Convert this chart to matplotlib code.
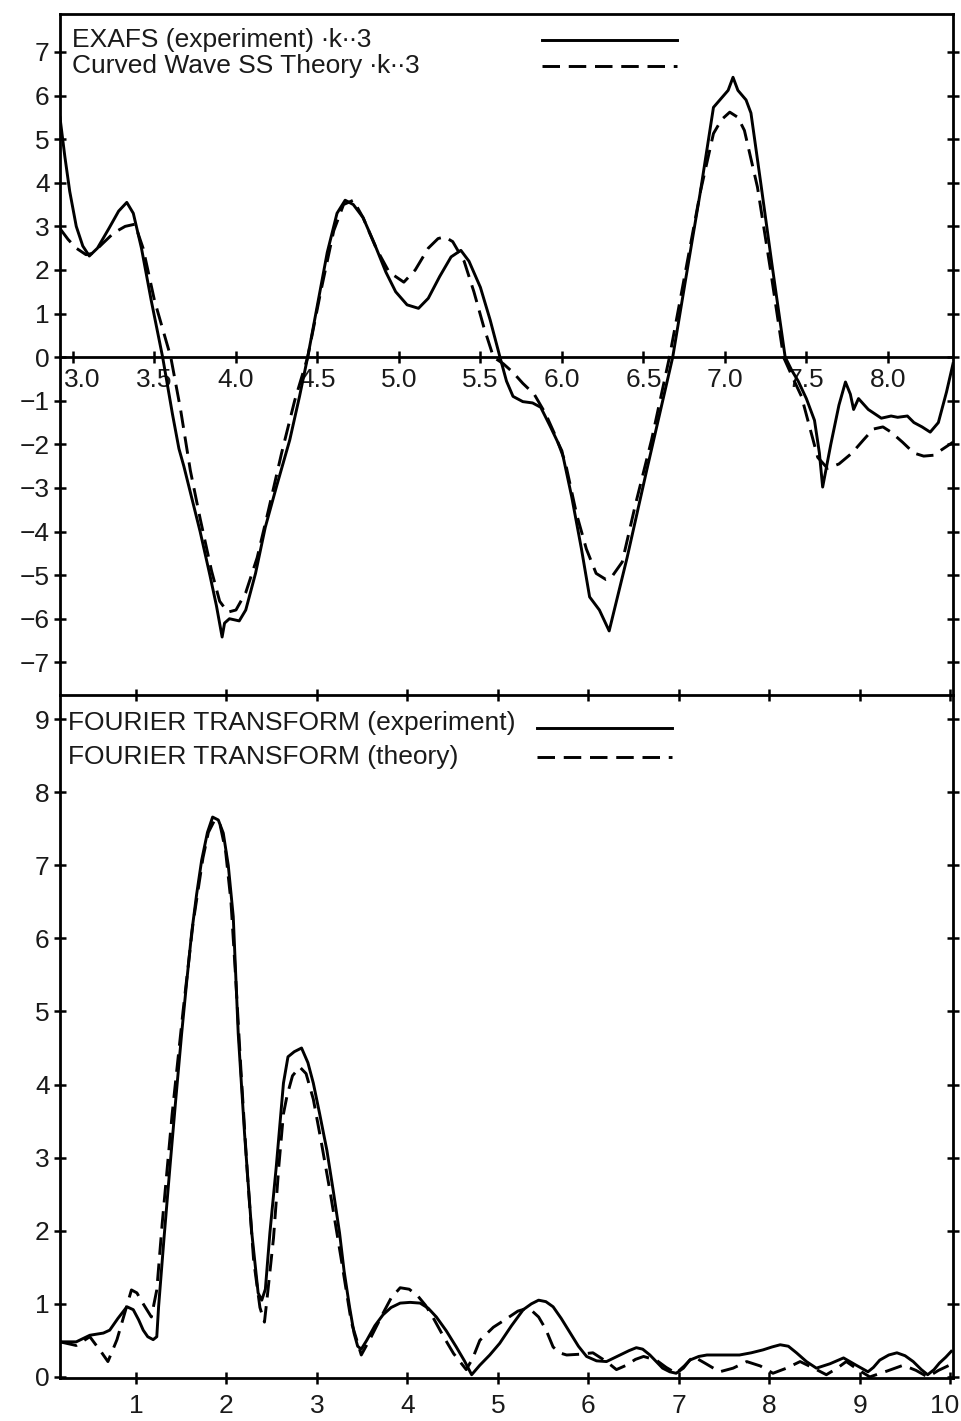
import numpy as np
from matplotlib import pyplot as plt
from matplotlib.ticker import FormatStrFormatter
from matplotlib.transforms import ScaledTranslation

plt.rcParams['font.family'] = ['Liberation Sans', 'DejaVu Sans']
plt.rcParams['font.size'] = 19

# EXAFS k^3-weighted, experiment
k_exp = [2.92, 2.95, 2.98, 3.02, 3.06, 3.10, 3.15, 3.22, 3.28, 3.33, 3.37, 3.42, 3.48,
         3.55, 3.61, 3.65, 3.68, 3.72, 3.78, 3.84, 3.88, 3.915, 3.93, 3.96, 4.02, 4.06,
         4.12, 4.18, 4.25, 4.33, 4.39, 4.44, 4.50, 4.56, 4.62, 4.67, 4.72, 4.78, 4.85,
         4.92, 4.98, 5.05, 5.12, 5.18, 5.25, 5.32, 5.38, 5.43, 5.50, 5.56, 5.62, 5.66,
         5.70, 5.76, 5.82, 5.87, 5.93, 6.00, 6.06, 6.12, 6.17, 6.20, 6.23, 6.29, 6.40,
         6.52, 6.60, 6.68, 6.76, 6.85, 6.93, 7.02, 7.05, 7.08, 7.13, 7.16, 7.22, 7.29,
         7.37, 7.41, 7.45, 7.50, 7.55, 7.58, 7.60, 7.65, 7.70, 7.74, 7.77, 7.79, 7.82,
         7.88, 7.96, 8.02, 8.06, 8.12, 8.16, 8.21, 8.26, 8.31, 8.36, 8.40]
chi_exp = [5.5, 4.6, 3.8, 3.0, 2.55, 2.32, 2.5, 2.95, 3.35, 3.55, 3.3, 2.5, 1.3,
           0.0, -1.3, -2.1, -2.5, -3.1, -4.0, -5.0, -5.7, -6.42, -6.1, -6.0, -6.05, -5.8,
           -4.96, -3.9, -2.95, -1.9, -0.9, 0.0, 1.2, 2.4, 3.3, 3.6, 3.5, 3.2, 2.6,
           1.95, 1.5, 1.2, 1.12, 1.35, 1.85, 2.3, 2.45, 2.2, 1.6, 0.85, 0.0, -0.55,
           -0.9, -1.02, -1.05, -1.15, -1.6, -2.15, -3.2, -4.4, -5.5, -5.65, -5.8, -6.28, -4.6,
           -2.6, -1.3, 0.0, 1.8, 3.8, 5.73, 6.12, 6.42, 6.12, 5.9, 5.6, 4.0, 2.1,
           0.0, -0.3, -0.55, -0.95, -1.45, -2.2, -2.98, -2.0, -1.1, -0.57, -0.85, -1.2, -0.95,
           -1.2, -1.4, -1.35, -1.38, -1.35, -1.5, -1.6, -1.72, -1.5, -0.8, -0.15]

# curved wave single scattering theory
k_th = [2.92, 2.97, 3.02, 3.08, 3.12, 3.18, 3.25, 3.32, 3.38, 3.43, 3.50, 3.60, 3.66,
        3.72, 3.78, 3.85, 3.90, 3.95, 4.00, 4.06, 4.13, 4.20, 4.28, 4.36, 4.44, 4.52,
        4.60, 4.66, 4.72, 4.78, 4.86, 4.94, 5.03, 5.10, 5.18, 5.24, 5.28, 5.33, 5.40,
        5.46, 5.52, 5.58, 5.64, 5.70, 5.76, 5.83, 5.90, 5.96, 6.02, 6.09, 6.15, 6.21,
        6.27, 6.30, 6.37, 6.45, 6.55, 6.66, 6.75, 6.85, 6.93, 6.98, 7.03, 7.08, 7.12,
        7.20, 7.28, 7.36, 7.42, 7.47, 7.52, 7.57, 7.63, 7.70, 7.78, 7.85, 7.91, 7.97,
        8.02, 8.09, 8.16, 8.22, 8.28, 8.34, 8.40]
chi_th = [2.95, 2.7, 2.5, 2.35, 2.38, 2.6, 2.85, 3.0, 3.05, 2.5, 1.3, 0.0, -1.2,
          -2.6, -3.7, -4.9, -5.6, -5.85, -5.8, -5.4, -4.6, -3.5, -2.2, -1.0, 0.0, 1.5,
          2.9, 3.5, 3.6, 3.2, 2.5, 1.95, 1.72, 2.0, 2.5, 2.72, 2.76, 2.65, 2.2,
          1.5, 0.7, 0.0, -0.15, -0.35, -0.6, -0.85, -1.3, -1.8, -2.4, -3.6, -4.4, -4.96,
          -5.1, -5.07, -4.7, -3.4, -1.9, 0.0, 1.8, 3.8, 5.13, 5.45, 5.62, 5.5, 5.2,
          3.9, 2.0, 0.0, -0.5, -0.9, -1.6, -2.3, -2.55, -2.45, -2.2, -1.9, -1.65, -1.6,
          -1.72, -1.95, -2.2, -2.27, -2.25, -2.1, -1.95]

# Fourier transform magnitude, experiment
r_exp = [0.16, 0.34, 0.49, 0.64, 0.71, 0.80, 0.90, 0.97, 1.03, 1.08, 1.13, 1.19, 1.23,
         1.25, 1.31, 1.376, 1.44, 1.505, 1.56, 1.615, 1.67, 1.726, 1.79, 1.847, 1.91,
         1.965, 2.02, 2.075, 2.13, 2.20, 2.28, 2.35, 2.39, 2.43, 2.48, 2.55, 2.63,
         2.68, 2.75, 2.83, 2.90, 2.96, 3.03, 3.11, 3.18, 3.25, 3.30, 3.36, 3.41, 3.45,
         3.49, 3.55, 3.64, 3.73, 3.82, 3.92, 4.03, 4.14, 4.23, 4.32, 4.43, 4.54, 4.63,
         4.71, 4.80, 4.91, 5.02, 5.15, 5.28, 5.37, 5.45, 5.53, 5.61, 5.70, 5.80, 5.89,
         5.98, 6.09, 6.20, 6.35, 6.45, 6.53, 6.60, 6.68, 6.75, 6.82, 6.90, 6.97, 7.05,
         7.12, 7.22, 7.31, 7.50, 7.67, 7.80, 7.93, 8.03, 8.12, 8.21, 8.30, 8.41, 8.52,
         8.67, 8.82, 8.96, 9.09, 9.15, 9.22, 9.32, 9.41, 9.50, 9.59, 9.68, 9.75, 9.82,
         9.88, 9.95, 10.01]
ft_exp = [0.48, 0.48, 0.57, 0.60, 0.64, 0.80, 0.96, 0.92, 0.78, 0.64, 0.55, 0.51, 0.55,
          0.96, 1.9, 2.88, 3.8, 4.7, 5.4, 6.07, 6.6, 7.07, 7.45, 7.66, 7.62,
          7.44, 7.0, 6.30, 4.7, 3.33, 1.97, 1.15, 1.05, 1.2, 1.97, 2.87, 4.02,
          4.38, 4.45, 4.5, 4.3, 4.02, 3.6, 3.1, 2.55, 1.97, 1.45, 0.96, 0.6, 0.42,
          0.38, 0.5, 0.7, 0.85, 0.95, 1.01, 1.02, 1.01, 0.94, 0.82, 0.63, 0.41, 0.22,
          0.03, 0.16, 0.3, 0.46, 0.7, 0.92, 1.0, 1.05, 1.03, 0.96, 0.8, 0.6, 0.42,
          0.28, 0.22, 0.21, 0.3, 0.36, 0.4, 0.38, 0.3, 0.21, 0.12, 0.07, 0.05, 0.12,
          0.23, 0.28, 0.3, 0.3, 0.3, 0.33, 0.37, 0.41, 0.44, 0.42, 0.33, 0.21, 0.12,
          0.18, 0.26, 0.16, 0.07, 0.13, 0.23, 0.3, 0.33, 0.29, 0.21, 0.1, 0.03, 0.1,
          0.19, 0.27, 0.35]

# Fourier transform magnitude, theory
r_th = [0.16, 0.34, 0.49, 0.55, 0.60, 0.69, 0.79, 0.87, 0.95, 1.01, 1.08, 1.17, 1.23,
        1.29, 1.40, 1.52, 1.63, 1.74, 1.80, 1.87, 1.93, 1.99, 2.05, 2.10, 2.16, 2.23,
        2.30, 2.37, 2.42, 2.46, 2.52, 2.58, 2.63, 2.67, 2.73, 2.81, 2.88, 2.96, 3.05,
        3.15, 3.27, 3.38, 3.49, 3.60, 3.73, 3.82, 3.92, 4.02, 4.12, 4.20, 4.28, 4.40,
        4.51, 4.65, 4.72, 4.80, 4.95, 5.10, 5.22, 5.30, 5.38, 5.45, 5.53, 5.61, 5.68,
        5.76, 5.90, 6.05, 6.20, 6.31, 6.42, 6.52, 6.61, 6.75, 6.86, 6.97, 7.06, 7.16,
        7.30, 7.45, 7.60, 7.75, 7.90, 8.04, 8.19, 8.34, 8.49, 8.63, 8.75, 8.85, 8.98,
        9.11, 9.30, 9.48, 9.62, 9.75, 9.87, 9.99]
ft_th = [0.48, 0.43, 0.55, 0.45, 0.37, 0.21, 0.51, 0.85, 1.19, 1.15, 1.0, 0.82, 1.19,
         2.1, 3.6, 5.0, 6.2, 7.1, 7.45, 7.62, 7.55, 7.2, 6.5, 5.5, 4.2, 2.8,
         1.6, 0.95, 0.75, 1.2, 1.9, 2.9, 3.6, 3.85, 4.12, 4.24, 4.15, 3.8, 3.2,
         2.5, 1.6, 0.75, 0.3, 0.55, 0.87, 1.08, 1.22, 1.2, 1.1, 0.98, 0.82, 0.55,
         0.32, 0.1, 0.25, 0.5, 0.68, 0.8, 0.9, 0.93, 0.9, 0.82, 0.65, 0.41, 0.33,
         0.3, 0.31, 0.33, 0.21, 0.1, 0.16, 0.24, 0.28, 0.23, 0.13, 0.05, 0.15, 0.28,
         0.18, 0.07, 0.12, 0.21, 0.15, 0.05, 0.12, 0.21, 0.12, 0.03, 0.12, 0.21, 0.1,
         0.0, 0.08, 0.16, 0.09, 0.0, 0.09, 0.16]

chi_labels = ['EXAFS (experiment) \u2219k\u2219\u22193', 'Curved Wave SS Theory \u2219k\u2219\u22193']
ft_labels = ['FOURIER TRANSFORM (experiment)', 'FOURIER TRANSFORM (theory)']

fig = plt.figure(figsize=(9.61, 14.21), dpi=100)
ax1 = fig.add_axes([0.0624, 0.5109, 0.9293, 0.4792])
ax2 = fig.add_axes([0.0624, 0.0303, 0.9293, 0.4806])

lw = 2.1
dash = (6, 3)
txt = '#1a1a1a'

# --- top: chi(k) * k^3 ---
ax1.plot(k_exp, chi_exp, color='k', lw=lw, zorder=3)
ax1.plot(k_th, chi_th, color='k', lw=lw, dashes=dash, zorder=3)
ax1.set_xlim(2.92, 8.40)
ax1.set_ylim(-7.75, 7.87)
ax1.spines['bottom'].set_position(('data', 0))
for s in ax1.spines.values():
    s.set_linewidth(2)
ax1.set_yticks(np.arange(-7, 8))
ax1.set_xticks(np.arange(3.0, 8.01, 0.5))
ax1.xaxis.set_major_formatter(FormatStrFormatter('%.1f'))
ax1.tick_params(direction='inout', length=9, width=1.8, colors='k', labelcolor=txt)
ax1.tick_params(axis='y', right=True, pad=3)
ax1.tick_params(axis='x', pad=3)
# shift the first k label clear of the left spine
lbl = ax1.xaxis.get_major_ticks()[0].label1
lbl.set_transform(lbl.get_transform() + ScaledTranslation(0.09, 0, fig.dpi_scale_trans))

for i, (lab, y) in enumerate(zip(chi_labels, [0.962, 0.924])):
    ax1.text(0.0134, y, lab, transform=ax1.transAxes, va='center', ha='left', color=txt)
    ax1.plot([0.540, 0.691], [y, y], transform=ax1.transAxes, color='k', lw=lw,
             dashes=(None, None) if i == 0 else dash)

# --- bottom: Fourier transform ---
ax2.plot(r_exp, ft_exp, color='k', lw=lw, zorder=3)
ax2.plot(r_th, ft_th, color='k', lw=lw, dashes=dash, zorder=3)
ax2.set_xlim(0.16, 10.03)
ax2.set_ylim(-0.014, 9.33)
for s in ax2.spines.values():
    s.set_linewidth(2)
ax2.set_xticks(np.arange(1, 11))
ax2.set_yticks(np.arange(0, 10))
ax2.tick_params(direction='inout', length=9, width=1.8, colors='k', labelcolor=txt,
                top=True, right=True)
ax2.tick_params(axis='x', pad=7)
ax2.tick_params(axis='y', pad=3)
# last R label sits at the figure edge
ax2.xaxis.get_major_ticks()[-1].label1.set_horizontalalignment('right')
lbl = ax2.xaxis.get_major_ticks()[-1].label1
lbl.set_transform(lbl.get_transform() + ScaledTranslation(0.09, 0, fig.dpi_scale_trans))

for i, (lab, y) in enumerate(zip(ft_labels, [0.959, 0.909])):
    ax2.text(0.009, y, lab, transform=ax2.transAxes, va='center', ha='left', color=txt)
    ax2.plot([0.534, 0.685], [y - 0.008 * (i == 0), y - 0.008 * (i == 0)],
             transform=ax2.transAxes, color='k', lw=lw,
             dashes=(None, None) if i == 0 else dash)

fig.savefig('out.png', dpi=100)
